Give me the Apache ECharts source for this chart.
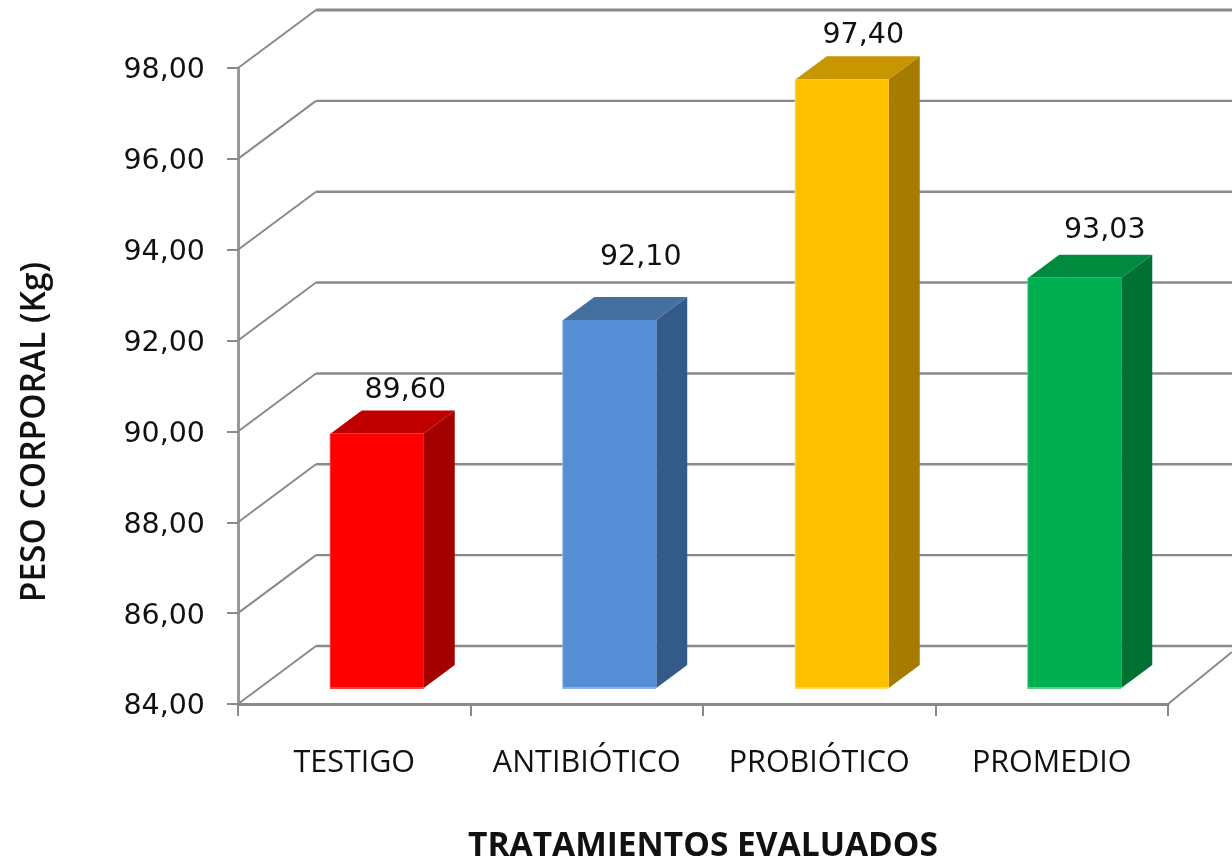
<!DOCTYPE html>
<html><head><meta charset="utf-8">
<style>html,body{margin:0;padding:0;background:#fff}#c{width:1232px;height:862px}</style>
<script src="https://cdn.jsdelivr.net/npm/echarts@6/dist/echarts.min.js"></script>
</head><body><div id="c"></div>
<script>
const categories = ["TESTIGO","ANTIBIÓTICO","PROBIÓTICO","PROMEDIO"];
const values = [89.60,92.10,97.40,93.03];
const labels = ["89,60","92,10","97,40","93,03"];
const gridValues = [84,86,88,90,92,94,96,98];
const frontColors = ["#FF0000","#558ED5","#FFC000","#00B050"];
const sideColors = ["#A50000","#345A8A","#A67C00","#007033"];
const topColors = ["#C00000","#44709F","#C79600","#008A3E"];
const edgeColors = ["#FF4040","#8DB4E2","#FFD966","#5CCB8A"];
const FONT = '"Open Sans"';
const LINE = '#8a8a8a';
const chart = echarts.init(document.getElementById('c'),null,{renderer:'canvas'});
function poly(points,fill,z2){return {type:'polygon',shape:{points},style:{fill},z2:z2||1};}
const labelDx=[28,31,21,30], labelDy=[43,62,44,47];
chart.setOption({
  animation:false,
  backgroundColor:'#fff',
  grid:{left:238,top:68,width:930,height:636,outerBoundsMode:'none',containLabel:false},
  xAxis:{type:'category',data:categories,
    axisLine:{lineStyle:{color:LINE,width:3}},
    axisTick:{show:true,length:12,lineStyle:{color:LINE,width:2}},
    axisLabel:{color:'#111',fontFamily:FONT,fontSize:30.5,margin:44,interval:0},
    name:'TRATAMIENTOS EVALUADOS',nameLocation:'middle',nameGap:125,
    nameTextStyle:{color:'#111',fontFamily:FONT,fontSize:33.5,fontWeight:'bold'}},
  yAxis:{type:'value',min:84,max:98,interval:2,
    axisLine:{show:true,lineStyle:{color:'#999',width:3}},
    axisTick:{show:true,length:11,lineStyle:{color:LINE,width:2}},
    splitLine:{show:false},
    axisLabel:{color:'#111',fontFamily:'"DejaVu Sans"',fontSize:28.5,margin:33,verticalAlign:'top',lineHeight:6,formatter:v=>v.toFixed(2).replace('.',',')},
    name:'PESO CORPORAL (Kg)',nameLocation:'middle',nameGap:186,
    nameTextStyle:{color:'#111',fontFamily:FONT,fontSize:33.5,fontWeight:'600',padding:[0,92,0,0]}},
  series:[
   {type:'custom',z:1,data:gridValues.map(v=>[0,v]),silent:true,clip:false,encode:{x:0,y:1},
    renderItem(p,api){
      const v=api.value(1);
      const y=api.coord([0,v])[1],x0=238,bx=316,by=y-58,xe=1232;
      const ch=[
        {type:'line',shape:{x1:x0,y1:y,x2:bx,y2:by},style:{stroke:LINE,lineWidth:2}},
        {type:'line',shape:{x1:bx,y1:by,x2:xe,y2:by},style:{stroke:LINE,lineWidth:v===98?3:2.4}}
      ];
      if(v===84) ch.push({type:'line',shape:{x1:1168,y1:y,x2:1232,y2:by+6},style:{stroke:LINE,lineWidth:2}});
      return {type:'group',children:ch};
    }},
   {type:'custom',z:3,data:values.map((v,i)=>[i,v]),silent:true,clip:false,encode:{x:0,y:1},
    renderItem(p,api){
      const i=api.value(0),v=api.value(1);
      const c=api.coord([i,v]),b=api.coord([i,84]);
      const dx=23,dy=-16,hw=46.5,sx=31,sy=-23;
      const l=c[0]+dx-hw,r=c[0]+dx+hw,t=c[1]+dy,bt=b[1]+dy;
      return {type:'group',children:[
        poly([[r,t],[r+sx,t+sy],[r+sx,bt+sy],[r,bt]],sideColors[i]),
        poly([[l,t],[l+sx,t+sy],[r+sx,t+sy],[r,t]],topColors[i]),
        {type:'rect',shape:{x:l-1,y:t,width:hw*2+1,height:bt-t+1},style:{fill:edgeColors[i]},z2:2},
        {type:'rect',shape:{x:l,y:t,width:hw*2,height:bt-t-1},style:{fill:frontColors[i]},z2:3},
        {type:'text',style:{text:labels[i],x:(r+l)/2+labelDx[i],y:t-labelDy[i],align:'center',verticalAlign:'middle',
          fill:'#111',font:'28.5px "DejaVu Sans"'},z2:5}
      ]};
    }}
  ]
});
</script></body></html>
